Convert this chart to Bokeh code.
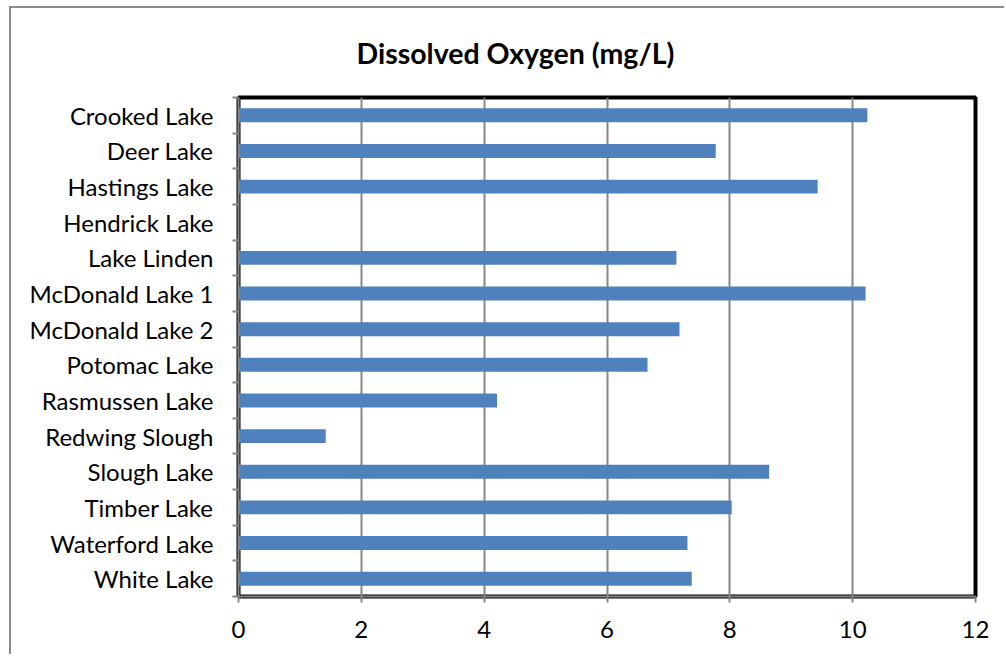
from bokeh.plotting import figure
from bokeh.models import ColumnDataSource, FixedTicker, Range1d
from bokeh.embed import file_html
from bokeh.resources import INLINE

lakes = ["Crooked Lake", "Deer Lake", "Hastings Lake", "Hendrick Lake", "Lake Linden",
         "McDonald Lake 1", "McDonald Lake 2", "Potomac Lake", "Rasmussen Lake",
         "Redwing Slough", "Slough Lake", "Timber Lake", "Waterford Lake", "White Lake"]
oxygen = [10.24, 7.77, 9.43, 0.0, 7.13, 10.21, 7.18, 6.66, 4.21, 1.42, 8.64, 8.03, 7.31, 7.38]
x_ticks = [0, 2, 4, 6, 8, 10, 12]
title_text = "Dissolved Oxygen (mg/L)"

n = len(lakes)
ypos = [n - 1 - i for i in range(n)]
src = ColumnDataSource(dict(y=ypos, v=oxygen, name=lakes))

FONT = "Lato"
GRAY = "#878787"

p = figure(width=995, height=648, output_backend="svg", toolbar_location=None,
           x_range=Range1d(0, 12), y_range=Range1d(-0.5, n - 0.5),
           min_border_left=227, min_border_right=31, min_border_top=89, min_border_bottom=60)
p.styles = {"margin-left": "9px", "margin-top": "6px",
            "border-left": "2px solid #8c8c8c", "border-top": "2px solid #8c8c8c"}

p.hbar(y="y", right="v", left=0, height=0.39, source=src,
       fill_color="#4F81BD", line_color=None)

p.title.text = title_text
p.title.align = "left"
p.title.vertical_align = "top"
p.title.offset = 118
p.title.standoff = 52
p.title.text_line_height = 1.0
p.title.text_font = FONT
p.title.text_font_style = "bold"
p.title.text_font_size = "28.5px"
p.title.text_color = "black"

# x axis
p.xaxis.ticker = FixedTicker(ticks=x_ticks)
p.xaxis.axis_line_color = GRAY
p.xaxis.axis_line_width = 2
p.xaxis.major_tick_line_color = GRAY
p.xaxis.major_tick_line_width = 2
p.xaxis.major_tick_out = 6
p.xaxis.major_tick_in = 0
p.xaxis.minor_tick_line_color = None
p.xaxis.major_label_text_font = FONT
p.xaxis.major_label_text_font_size = "24px"
p.xaxis.major_label_text_color = "black"
p.xaxis.major_label_standoff = 18

# y axis
p.yaxis.ticker = FixedTicker(ticks=ypos, minor_ticks=[k - 0.5 for k in range(n + 1)])
p.yaxis.major_label_overrides = {float(ypos[i]): lakes[i] for i in range(n)}
p.yaxis.axis_line_color = GRAY
p.yaxis.axis_line_width = 2
p.yaxis.major_tick_line_color = None
p.yaxis.major_tick_out = 0
p.yaxis.major_tick_in = 0
p.yaxis.minor_tick_line_color = GRAY
p.yaxis.minor_tick_line_width = 2
p.yaxis.minor_tick_out = 6
p.yaxis.minor_tick_in = 0
p.yaxis.major_label_text_font = FONT
p.yaxis.major_label_text_font_size = "24px"
p.yaxis.major_label_text_color = "black"
p.yaxis.major_label_standoff = 19

p.xgrid.ticker = FixedTicker(ticks=x_ticks)
p.xgrid.grid_line_color = GRAY
p.xgrid.grid_line_width = 2
p.ygrid.grid_line_color = None

p.outline_line_color = "black"
p.outline_line_width = 4
p.outline_line_alpha = 1.0

open("out.html", "w").write(file_html(p, INLINE))
